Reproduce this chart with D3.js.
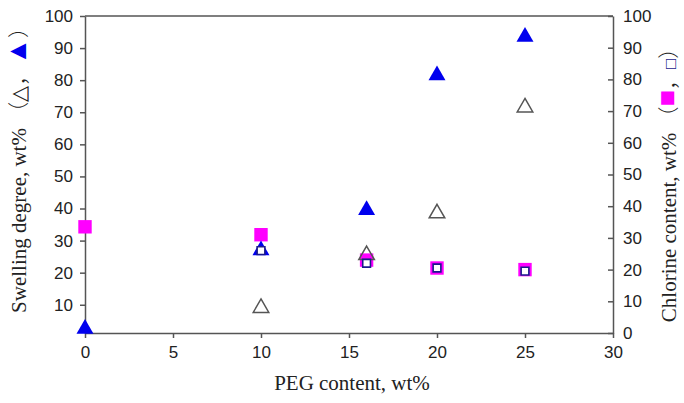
<!DOCTYPE html>
<html>
<head>
<meta charset="utf-8">
<script src="https://cdn.jsdelivr.net/npm/d3@7"></script>
<style>
  body { margin: 0; background: #fff; }
  .tick text { font-family: "Liberation Sans", Arial, sans-serif; font-size: 17px; fill: #222; }
  .title { font-family: "Liberation Serif", "Times New Roman", serif; font-size: 21px; fill: #222; }
  .cjk { font-family: "Noto Sans CJK SC", sans-serif; font-weight: 300; }
</style>
</head>
<body>
<div id="chart"></div>
<script>
// PEG content, wt%
var pegX = [0, 10, 16, 20, 25];
var pegXOpen = [10, 16, 20, 25];
// swelling degree (left axis)
var swellFilled = [2.5, 27, 39.5, 81.5, 93.5];
var swellOpen = [9, 25.5, 38.5, 71.5];
// chlorine content (right axis)
var chlorFilled = [33.5, 31, 23, 20.5, 20];
var chlorOpen = [26, 22, 20.5, 19.5];

var xTicks = [0, 5, 10, 15, 20, 25, 30];
var leftTicks = [10, 20, 30, 40, 50, 60, 70, 80, 90, 100];
var rightTicks = [0, 10, 20, 30, 40, 50, 60, 70, 80, 90, 100];

var width = 684, height = 403;
var plotL = 85, plotR = 613, plotT = 16, plotB = 333;
var axisColor = "#555";

var svg = d3.select("#chart").append("svg")
    .attr("width", width)
    .attr("height", height);

var x = d3.scaleLinear().domain([0, 30]).range([plotL, plotR]);
var yL = d3.scaleLinear().domain([1.2, 100]).range([plotB, plotT]);
var yR = d3.scaleLinear().domain([0, 100]).range([plotB, plotT]);

// top border
svg.append("line")
    .attr("x1", plotL).attr("x2", plotR)
    .attr("y1", plotT).attr("y2", plotT)
    .attr("stroke", axisColor).attr("stroke-width", 1.5);

var gx = svg.append("g")
    .attr("transform", "translate(0," + plotB + ")")
    .call(d3.axisBottom(x).tickValues(xTicks).tickSize(5).tickPadding(8).tickSizeOuter(0));

var gl = svg.append("g")
    .attr("transform", "translate(" + plotL + ",0)")
    .call(d3.axisLeft(yL).tickValues(leftTicks).tickSize(5).tickPadding(7).tickSizeOuter(0));

var gr = svg.append("g")
    .attr("transform", "translate(" + plotR + ",0)")
    .call(d3.axisRight(yR).tickValues(rightTicks).tickSize(-5).tickPadding(10).tickSizeOuter(0));

[gx, gl, gr].forEach(function(g){
    g.select(".domain").attr("stroke", axisColor).attr("stroke-width", 1.5);
    g.selectAll(".tick line").attr("stroke", axisColor).attr("stroke-width", 1.5);
});
gr.selectAll(".tick text").attr("x", 10);

var tri = d3.symbol().type(d3.symbolTriangle);
var sq = d3.symbol().type(d3.symbolSquare);

// filled magenta squares (chlorine)
svg.selectAll(".cf").data(pegX).enter().append("path")
    .attr("class", "cf")
    .attr("d", sq.size(180))
    .attr("transform", function(d, i){ return "translate(" + x(d) + "," + yR(chlorFilled[i]) + ")"; })
    .attr("fill", "#ff00ff");

// filled blue triangles (swelling)
svg.selectAll(".sf").data(pegX).enter().append("path")
    .attr("class", "sf")
    .attr("d", tri.size(125))
    .attr("transform", function(d, i){ return "translate(" + x(d) + "," + yL(swellFilled[i]) + ")"; })
    .attr("fill", "#0000ee");

// open triangles (swelling)
svg.selectAll(".so").data(pegXOpen).enter().append("path")
    .attr("class", "so")
    .attr("d", tri.size(105))
    .attr("transform", function(d, i){ return "translate(" + x(d) + "," + yL(swellOpen[i]) + ")"; })
    .attr("fill", "none")
    .attr("stroke", "#555")
    .attr("stroke-width", 1.5);

// open squares (chlorine)
svg.selectAll(".co").data(pegXOpen).enter().append("path")
    .attr("class", "co")
    .attr("d", sq.size(60))
    .attr("transform", function(d, i){ return "translate(" + x(d) + "," + yR(chlorOpen[i]) + ")"; })
    .attr("fill", "#fff")
    .attr("stroke", "#1a1a8c")
    .attr("stroke-width", 1.6);

// titles
svg.append("text")
    .attr("class", "title")
    .attr("x", (plotL + plotR) / 2 + 3)
    .attr("y", 390)
    .attr("text-anchor", "middle")
    .text("PEG content, wt%");

var lt = svg.append("text")
    .attr("class", "title")
    .attr("transform", "translate(26,165) rotate(-90)")
    .attr("text-anchor", "middle");
lt.append("tspan").text("Swelling degree, wt% ");
lt.append("tspan").attr("class", "cjk").text("\uFF08");
lt.append("tspan").text("\u25B3");
lt.append("tspan").attr("class", "cjk").text("\uFF0C");
lt.append("tspan").attr("fill", "#0000ee").style("font-size", "27px").text("\u25B2");
lt.append("tspan").attr("class", "cjk").text("\uFF09");

var rt = svg.append("text")
    .attr("class", "title")
    .attr("transform", "translate(676,180) rotate(-90)")
    .attr("text-anchor", "middle");
rt.append("tspan").text("Chlorine content, wt% ");
rt.append("tspan").attr("class", "cjk").text("\uFF08");
rt.append("tspan").attr("fill", "#ff00ff").style("font-size", "27px").text("\u25A0");
rt.append("tspan").attr("class", "cjk").text("\uFF0C");
rt.append("tspan").attr("fill", "#1a1a8c").style("font-size", "17px").text("\u25A1");
rt.append("tspan").attr("class", "cjk").text("\uFF09");
</script>
</body>
</html>
